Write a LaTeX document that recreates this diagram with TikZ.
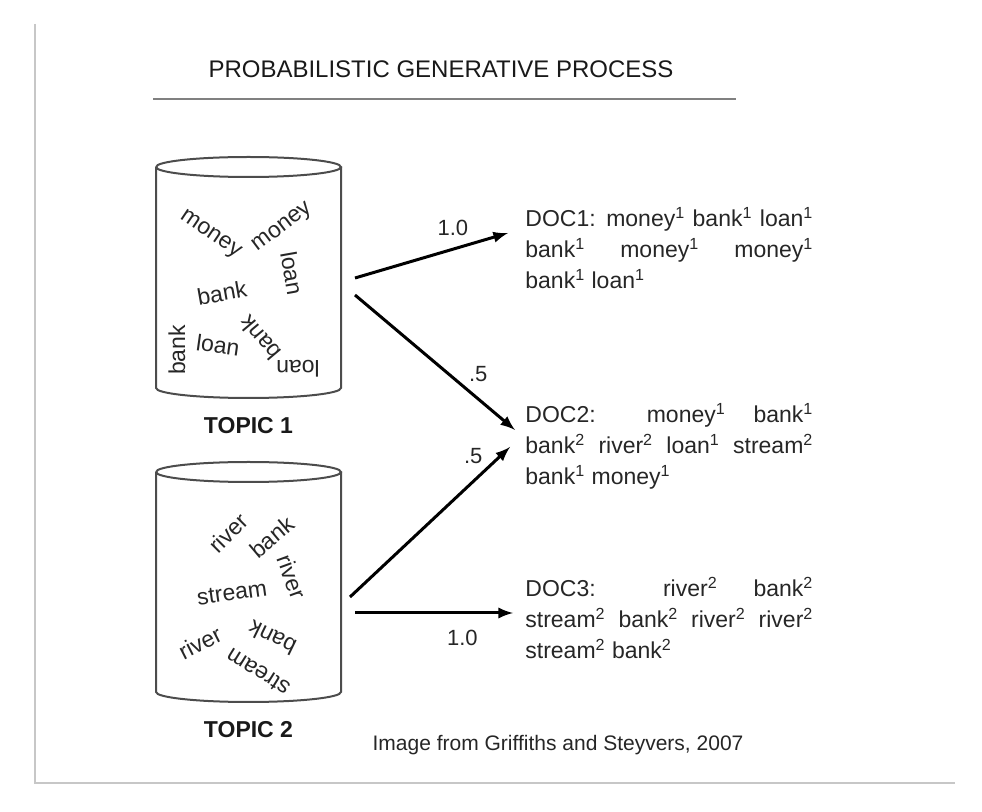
\documentclass[tikz,border=0pt]{standalone}
\usepackage{fontspec}
\setmainfont{Liberation Sans}
\usetikzlibrary{arrows}

\newcommand\topicno[1]{\textsuperscript{#1}}

\tikzset{
	frame/.style={draw=black!22, line width=1pt},
	rule/.style={draw=black!50, line width=1pt},
	title/.style={font=\fontsize{12}{14}\selectfont, text=black!90},
	can/.style={draw=black!70, line width=1pt},
	word/.style={font=\fontsize{11.5}{13}\selectfont, text=black!85, inner sep=1pt},
	topic/.style={font=\fontsize{11.5}{13}\selectfont\bfseries, text=black!90},
	doc/.style={font=\fontsize{11.5}{15.5}\selectfont, text=black!85, text width=144pt, align=justify, inner sep=0pt, anchor=base west},
	prob/.style={->, >=latex, line width=1.5pt},
	weight/.style={font=\fontsize{11}{13}\selectfont, text=black!85, inner sep=0pt},
	credit/.style={font=\fontsize{10.5}{12}\selectfont, text=black!85}
}

\begin{document}
\begin{tikzpicture}[x=0.5pt, y=-0.5pt]
	\useasboundingbox (0,0) rectangle (982,812);

	\newcommand\topiccan[4]{ %% argument 1: name, argument 2: top y, argument 3: bottom y, argument 4: label
		\draw[can] (156,#2) arc [start angle=180, end angle=540, x radius=46.25pt, y radius=5pt];
		\draw[can] (156,#2) -- (156,#3) arc [start angle=180, end angle=360, x radius=46.25pt, y radius=5pt] -- (341,#2);
		\node[topic] (#1) at (248.5,#3+38) {#4};
	}

	\draw[frame] (35,24) -- (35,783) -- (955,783);

	\node[title] (title) at (441,69) {PROBABILISTIC GENERATIVE PROCESS};
	\draw[rule] (153,99) -- (736,99);

	\topiccan{topic1}{167}{388}{TOPIC 1}
	\topiccan{topic2}{472}{692}{TOPIC 2}

	% words of topic 1
	\node[word, rotate=-34] (t1money) at (210,235) {money};
	\node[word, rotate=37] (t1moneyb) at (283,228) {money};
	\node[word, rotate=-80] (t1loan) at (292,273) {loan};
	\node[word, rotate=10] (t1bank) at (222,293) {bank};
	\node[word, rotate=130] (t1bankb) at (260,338) {bank};
	\node[word, rotate=-8] (t1loanb) at (218,345) {loan};
	\node[word, rotate=90] (t1bankc) at (177,350) {bank};
	\node[word, rotate=180] (t1loanc) at (298,369) {loan};

	% words of topic 2
	\node[word, rotate=45] (t2river) at (228,533) {river};
	\node[word, rotate=40] (t2bank) at (272,537) {bank};
	\node[word, rotate=-70] (t2riverb) at (292,577) {river};
	\node[word, rotate=8] (t2stream) at (232,593) {stream};
	\node[word, rotate=27] (t2riverc) at (200,643) {river};
	\node[word, rotate=154] (t2bankb) at (272,638) {bank};
	\node[word, rotate=148] (t2streamb) at (258,672) {stream};

	% documents
	\node[doc] (doc1) at (525,227) {DOC1: money\topicno{1} bank\topicno{1} loan\topicno{1}\linebreak
		bank\topicno{1} money\topicno{1} money\topicno{1}\linebreak
		bank\topicno{1} loan\topicno{1}};
	\node[doc] (doc2) at (525,423) {DOC2: money\topicno{1} bank\topicno{1}\linebreak
		bank\topicno{2} river\topicno{2} loan\topicno{1} stream\topicno{2}\linebreak
		bank\topicno{1} money\topicno{1}};
	\node[doc] (doc3) at (525,597) {DOC3: river\topicno{2} bank\topicno{2}\linebreak
		stream\topicno{2} bank\topicno{2} river\topicno{2} river\topicno{2}\linebreak
		stream\topicno{2} bank\topicno{2}};

	\coordinate (t1a) at (355,278);
	\coordinate (t1b) at (355,295);
	\coordinate (t2a) at (350,597);
	\coordinate (t2b) at (355,613);
	\coordinate (d1in) at (508,233);
	\coordinate (d2ina) at (515,430);
	\coordinate (d2inb) at (510,447);
	\coordinate (d3in) at (513,613);

	\draw[prob] (t1a) -- node[weight, pos=.64, above=6pt] {1.0} (d1in);
	\draw[prob] (t1b) -- node[weight, pos=.77, above=8pt] {.5} (d2ina);
	\draw[prob] (t2a) -- node[weight, pos=.77, above=8pt] {.5} (d2inb);
	\draw[prob] (t2b) -- node[weight, pos=.68, below=8pt] {1.0} (d3in);

	\node[credit] (credit) at (558,745) {Image from Griffiths and Steyvers, 2007};
\end{tikzpicture}
\end{document}
